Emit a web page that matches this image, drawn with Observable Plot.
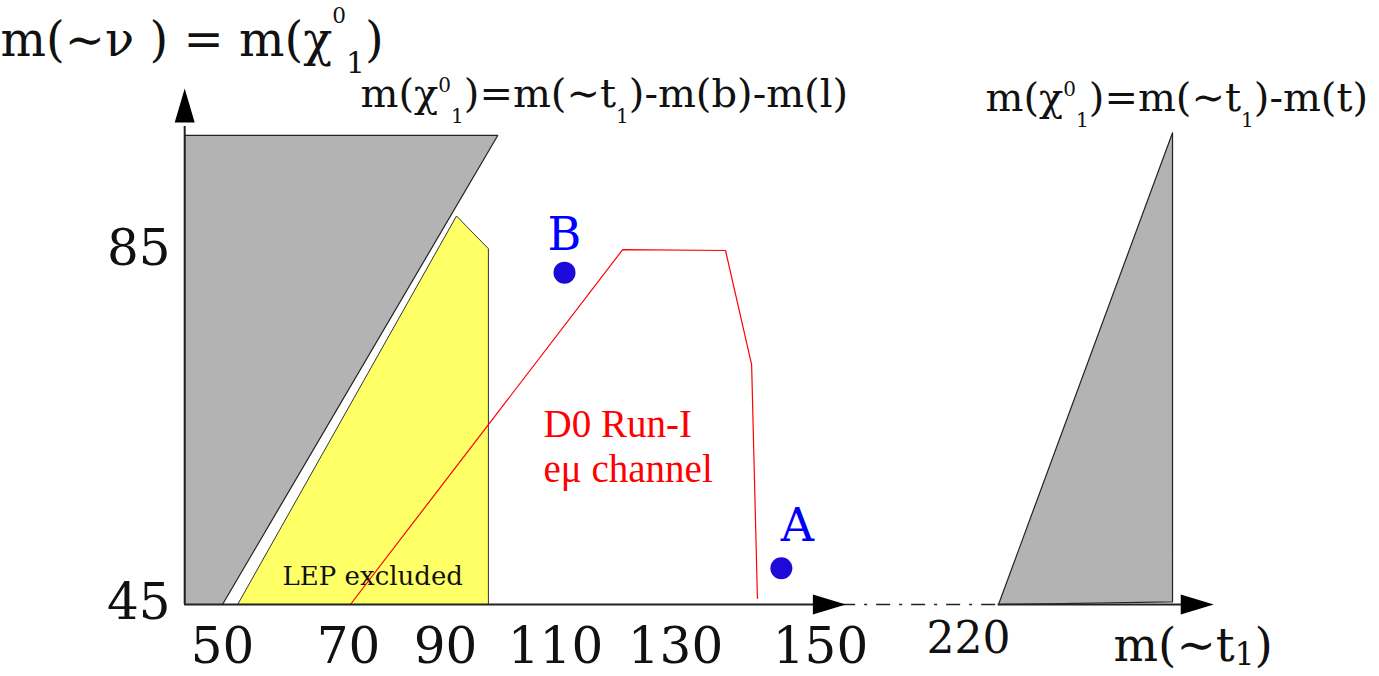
<!DOCTYPE html>
<html>
<head>
<meta charset="utf-8">
<script src="https://cdn.jsdelivr.net/npm/d3@7"></script>
<script src="https://cdn.jsdelivr.net/npm/@observablehq/plot@0.6"></script>
<style>
  html, body { margin: 0; padding: 0; background: #fff; }
</style>
</head>
<body>
<div id="chart"></div>
<script>
// Stop mass m(~t1) on x, neutralino / sneutrino mass on y (GeV), schematic view.
const xTicks = [50, 70, 90, 110, 130, 150];
const xTicksAfterBreak = [220];
const yTicks = [45, 85];

// Kinematic limit m(chi) = m(~t1) - m(b) - m(l)
const bLeftMt   = [44, 99.5, 50, 44, 44];
const bLeftMchi = [98, 98, 45, 45, 98];

// LEP excluded region
const lepMt   = [52.4, 92, 97.8, 97.8, 52.4];
const lepMchi = [45, 88.9, 85.2, 45, 45];

// D0 Run-I e-mu channel exclusion contour
const d0Mt   = [70.4, 121.2, 136.9, 140.5, 141.3];
const d0Mchi = [45, 85.1, 85.0, 72.1, 45.7];

// Kinematic limit m(chi) = m(~t1) - m(t)
const tRightMt   = [234.2, 316.5, 316.5, 234.2];
const tRightMchi = [45, 98.3, 45.3, 45];

// Benchmark points
const pointNames = ["B", "A"];
const pointMt    = [111.5, 144.6];
const pointMchi  = [82.5, 49.1];

// Axis extents (x axis broken between 150 and 220)
const xAxisSolid1 = [44, 157];
const xAxisBroken = [160, 234];
const xAxisSolid2 = [234, 330];
const xArrowTips  = [162, 336];
const yAxisSpan   = [45, 99];
const yArrowTip   = 103.3;
const yAxisAt     = 44;

const poly = (xs, ys) => xs.map((x, i) => ({x, y: ys[i]}));
const points = pointNames.map((name, i) => ({name, x: pointMt[i], y: pointMchi[i]}));

// filled arrowheads, tip at the anchor point
const arrowRight = {draw(ctx) { ctx.moveTo(0, 0); ctx.lineTo(-33, -10); ctx.lineTo(-33, 10); ctx.closePath(); }};
const arrowUp    = {draw(ctx) { ctx.moveTo(0, 0); ctx.lineTo(-10, 34); ctx.lineTo(10, 34); ctx.closePath(); }};

const serif = "DejaVu Serif";
const ink = "#111";
const red = "#ff0000";

const label = (s, opts) => Plot.text([s], {text: d => d, lineAnchor: "bottom", fill: ink, ...opts});

const chart = Plot.plot({
  width: 1379,
  height: 676,
  margin: 0,
  style: {fontFamily: serif, background: "#fff", color: ink},
  x: {type: "linear", domain: [50, 70, 90, 110, 130, 150, 220], range: [222, 348, 445, 555, 675, 820, 968], axis: null},
  y: {type: "linear", domain: [45, 85], range: [604, 250], axis: null},
  marks: [
    // shaded regions
    Plot.line(poly(bLeftMt, bLeftMchi), {x: "x", y: "y", fill: "#b3b3b3", stroke: "#222", strokeWidth: 1.2}),
    Plot.line(poly(lepMt, lepMchi), {x: "x", y: "y", fill: "#ffff66", stroke: "#333", strokeWidth: 1}),
    Plot.line(poly(tRightMt, tRightMchi), {x: "x", y: "y", fill: "#b3b3b3", stroke: "#222", strokeWidth: 1.2}),
    label("LEP excluded", {x: 75, y: 45, fontSize: 26, textAnchor: "middle", dy: -20}),

    // D0 contour
    Plot.line(poly(d0Mt, d0Mchi), {x: "x", y: "y", stroke: red, strokeWidth: 1.2}),
    label("D0 Run-I",   {frameAnchor: "top-left", dx: 543, dy: 436, fontFamily: "Liberation Serif", fontSize: 39, fill: red, textAnchor: "start"}),
    label("eμ channel", {frameAnchor: "top-left", dx: 543, dy: 481, fontFamily: "Liberation Serif", fontSize: 39, fill: red, textAnchor: "start"}),

    // axes
    Plot.ruleY([45], {x1: xAxisSolid1[0], x2: xAxisSolid1[1], stroke: "#222", strokeWidth: 2}),
    Plot.ruleY([45], {x1: xAxisBroken[0], x2: xAxisBroken[1], stroke: "#222", strokeWidth: 1.5, strokeDasharray: "14,9,3,9"}),
    Plot.ruleY([45], {x1: xAxisSolid2[0], x2: xAxisSolid2[1], stroke: "#222", strokeWidth: 2}),
    Plot.ruleX([yAxisAt], {y1: yAxisSpan[0], y2: yAxisSpan[1], stroke: "#222", strokeWidth: 2}),
    Plot.dot(xArrowTips, {x: d => d, y: 45, symbol: arrowRight, fill: "#000", stroke: "none"}),
    Plot.dot([yArrowTip], {x: yAxisAt, y: d => d, symbol: arrowUp, fill: "#000", stroke: "none"}),

    // tick labels
    Plot.text(xTicks, {x: d => d, frameAnchor: "bottom", text: d => `${d}`, fontSize: 50, lineAnchor: "bottom", dy: -14, fill: ink}),
    Plot.text(xTicksAfterBreak, {x: d => d, frameAnchor: "bottom", text: d => `${d}`, fontSize: 44, lineAnchor: "bottom", dy: -24, fill: ink}),
    Plot.text(yTicks, {y: d => d, frameAnchor: "left", text: d => `${d}`, fontSize: 50, textAnchor: "end", dx: 170, dy: -2, fill: ink}),

    // axis titles
    label("m(∼t₁)", {frameAnchor: "bottom-left", dx: 1113, dy: -16, fontSize: 47, textAnchor: "start"}),
    label("m(∼ν ) = m(χ⁰₁)", {frameAnchor: "top-left", dx: 0, dy: 55, fontSize: 48, textAnchor: "start"}),

    // kinematic boundary labels
    label("m(χ⁰₁)=m(∼t₁)-m(b)-m(l)", {frameAnchor: "top-left", dx: 360, dy: 106, fontSize: 40, textAnchor: "start"}),
    label("m(χ⁰₁)=m(∼t₁)-m(t)", {frameAnchor: "top-left", dx: 985, dy: 110, fontSize: 40, textAnchor: "start"}),

    // benchmark points
    Plot.dot(points, {x: "x", y: "y", r: 11, fill: "#1e0ad8", stroke: "none"}),
    Plot.text(points, {filter: d => d.name === "B", x: "x", y: "y", text: "name", fontSize: 46, fill: "#0000ff", lineAnchor: "bottom", dy: -23}),
    Plot.text(points, {filter: d => d.name === "A", x: "x", y: "y", text: "name", fontSize: 46, fill: "#0000ff", lineAnchor: "bottom", dx: 16, dy: -27})
  ]
});

document.getElementById("chart").append(chart);

// Typeset ⁰ / ₁ as raised and lowered digits (sizes and shifts in em of the host text).
const scriptStyle = {
  "m(∼ν ) = m(χ⁰₁)":          {supSize: 0.45, rise: 0.68, subSize: 0.62, drop: 0.36},
  "m(∼t₁)":                   {supSize: 0.6,  rise: 0.4,  subSize: 0.66, drop: 0.1},
  "m(χ⁰₁)=m(∼t₁)-m(b)-m(l)": {supSize: 0.5,  rise: 0.36, subSize: 0.5,  drop: 0.42},
  "m(χ⁰₁)=m(∼t₁)-m(t)":      {supSize: 0.5,  rise: 0.36, subSize: 0.5,  drop: 0.42}
};
d3.select(chart).selectAll("text").each(function() {
  const s = this.textContent;
  const st = scriptStyle[s];
  if (!st) return;
  const fs = parseFloat(getComputedStyle(this).fontSize);
  const el = d3.select(this).text(null);
  let shift = 0;
  for (const ch of s) {
    let target = 0, size = null, glyph = ch;
    if (ch === "⁰") { target = -st.rise * fs; size = st.supSize * fs; glyph = "0"; }
    else if (ch === "₁") { target = st.drop * fs; size = st.subSize * fs; glyph = "1"; }
    const t = el.append("tspan").text(glyph).attr("dy", target - shift);
    if (size) t.attr("font-size", size);
    shift = target;
  }
});
</script>
</body>
</html>
